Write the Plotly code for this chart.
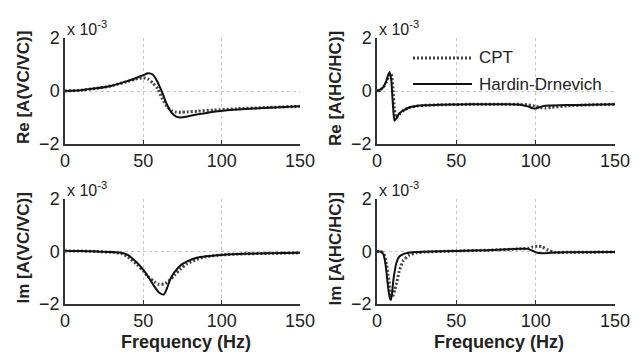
import plotly.graph_objects as go
from plotly.subplots import make_subplots

# ---- data (values in units of 1e-3) ----
f_re_vc = [0, 10, 20, 30, 40, 45, 50, 53, 56, 59, 62, 65, 68, 71, 74, 78, 85, 95, 110, 130, 150]
hd_re_vc = [0, 0.03, 0.1, 0.2, 0.38, 0.48, 0.6, 0.67, 0.62, 0.35, -0.05, -0.5, -0.82, -0.97, -1.0, -0.96, -0.88, -0.78, -0.7, -0.63, -0.58]
cpt_re_vc = [0, 0.03, 0.1, 0.2, 0.36, 0.45, 0.5, 0.45, 0.3, 0.1, -0.28, -0.58, -0.74, -0.79, -0.8, -0.79, -0.76, -0.72, -0.67, -0.62, -0.58]

f_re_hc = [0, 2, 4, 6, 7, 8, 9, 10, 11, 12, 14, 17, 20, 25, 30, 40, 60, 80, 90, 95, 98, 100, 103, 106, 110, 120, 135, 150]
hd_re_hc = [0, 0.05, 0.15, 0.4, 0.6, 0.72, 0.4, -0.5, -1.12, -1.05, -0.85, -0.72, -0.63, -0.57, -0.54, -0.52, -0.5, -0.5, -0.52, -0.58, -0.65, -0.66, -0.6, -0.56, -0.55, -0.53, -0.52, -0.5]
cpt_re_hc = [0, 0.05, 0.14, 0.35, 0.52, 0.65, 0.62, 0.1, -0.7, -1.0, -0.88, -0.72, -0.63, -0.57, -0.54, -0.52, -0.5, -0.5, -0.5, -0.52, -0.55, -0.58, -0.62, -0.64, -0.62, -0.56, -0.52, -0.5]

f_im_vc = [0, 10, 20, 30, 36, 40, 46, 50, 53, 57, 60, 63, 65, 67, 70, 74, 78, 84, 90, 100, 115, 130, 150]
hd_im_vc = [0.02, 0.02, 0.0, -0.02, -0.05, -0.13, -0.43, -0.7, -0.95, -1.33, -1.56, -1.64, -1.42, -1.08, -0.78, -0.52, -0.38, -0.24, -0.18, -0.13, -0.09, -0.07, -0.05]
cpt_im_vc = [0.02, 0.02, 0.0, -0.03, -0.08, -0.2, -0.5, -0.75, -0.95, -1.15, -1.25, -1.24, -1.18, -1.08, -0.9, -0.65, -0.47, -0.3, -0.2, -0.13, -0.09, -0.07, -0.05]

f_im_hc = [0, 2, 3, 4, 5, 6, 7, 8, 8.7, 9.5, 10.3, 11.3, 12.4, 14, 16.6, 20, 25, 30, 50, 70, 90, 95, 98, 101, 104, 108, 112, 120, 150]
hd_im_hc = [0, 0, -0.03, -0.1, -0.35, -0.8, -1.37, -1.75, -1.85, -1.6, -1.1, -0.7, -0.4, -0.2, -0.1, -0.05, -0.02, -0.01, 0.02, 0.05, 0.1, 0.1, 0.03, -0.05, -0.07, -0.06, -0.04, -0.03, -0.02]
cpt_im_hc = [0, 0, -0.02, -0.07, -0.2, -0.5, -0.9, -1.3, -1.6, -1.72, -1.65, -1.45, -1.2, -0.75, -0.35, -0.15, -0.05, -0.02, 0.02, 0.05, 0.1, 0.12, 0.17, 0.2, 0.18, 0.05, -0.03, -0.03, -0.02]

x_ticks = [0, 50, 100, 150]
y_ticks = [-2, 0, 2]
y_titles = ["Re [A(VC/VC)]", "Re [A(HC/HC)]", "Im [A(VC/VC)]", "Im [A(HC/HC)]"]
x_title = "Frequency (Hz)"
series_names = ["CPT", "Hardin-Drnevich"]

panels = [
    (1, 1, f_re_vc, cpt_re_vc, hd_re_vc),
    (1, 2, f_re_hc, cpt_re_hc, hd_re_hc),
    (2, 1, f_im_vc, cpt_im_vc, hd_im_vc),
    (2, 2, f_im_hc, cpt_im_hc, hd_im_hc),
]

FONT = "Liberation Sans, Arial, sans-serif"
TXT = "#222222"
OFF = 8                      # page body margin
W, H = 643 - OFF, 357 - OFF  # figure size that fills the window


def xp(px):
    return (px - OFF) / W


def yp(py):
    return 1 - (py - OFF) / H


CPT_LINE = dict(color="#444444", width=3, dash="2px,2px")
HD_LINE = dict(color="#111111", width=2)

fig = make_subplots(rows=2, cols=2)

for i, (r, c, f, cpt, hd) in enumerate(panels):
    fig.add_trace(go.Scatter(x=f, y=cpt, mode="lines", name=series_names[0],
                             line=dict(**CPT_LINE, shape="spline", smoothing=0.6),
                             showlegend=False), row=r, col=c)
    fig.add_trace(go.Scatter(x=f, y=hd, mode="lines", name=series_names[1],
                             line=dict(**HD_LINE, shape="spline", smoothing=0.6),
                             showlegend=False), row=r, col=c)

xpix = {1: (65, 300), 2: (377, 615)}
ypix = {1: (38, 144), 2: (199, 304)}
ytitle_x = {1: 23, 2: 335}
xdom = {c: [xp(a), xp(b)] for c, (a, b) in xpix.items()}
ydom = {r: [yp(b), yp(a)] for r, (a, b) in ypix.items()}

axis_common = dict(automargin=False, showgrid=True, gridcolor="#c8c8c8", griddash="dot", gridwidth=1,
                   showline=True, linecolor="#333333", linewidth=1.5,
                   ticks="inside", ticklen=4, tickcolor="#333333",
                   tickfont=dict(size=18, color=TXT, family=FONT), zeroline=False)

for i, (r, c, *_rest) in enumerate(panels):
    fig.update_xaxes(domain=xdom[c], range=[0, 150], tickvals=x_ticks, row=r, col=c, **axis_common)
    fig.update_yaxes(domain=ydom[r], range=[-2, 2], tickvals=y_ticks, ticklabelstandoff=0,
                     row=r, col=c, **axis_common)
    # y-axis title
    fig.add_annotation(text="<b>" + y_titles[i] + "</b>", xref="paper", yref="paper",
                       x=xp(ytitle_x[c]), y=yp((ypix[r][0] + ypix[r][1]) / 2 - 3),
                       xanchor="center", yanchor="middle", textangle=-90, showarrow=False,
                       font=dict(size=17, color=TXT, family=FONT))
    # exponent label
    fig.add_annotation(text="x 10<sup>-3</sup>", xref="paper", yref="paper",
                       x=xdom[c][0], y=yp(ypix[r][0] + 2), xanchor="left", yanchor="bottom",
                       showarrow=False, font=dict(size=16, color=TXT, family=FONT))
    if r == 2:
        fig.add_annotation(text="<b>" + x_title + "</b>", xref="paper", yref="paper",
                           x=xp((xpix[c][0] + xpix[c][1]) / 2 + 3), y=yp(342),
                           xanchor="center", yanchor="middle", showarrow=False,
                           font=dict(size=18, color=TXT, family=FONT))

# legend (top-right panel)
leg_rows = [(series_names[0], CPT_LINE, 58), (series_names[1], HD_LINE, 84)]
for name, ln, py in leg_rows:
    fig.add_shape(type="line", xref="paper", yref="paper",
                  x0=xp(413), x1=xp(472), y0=yp(py), y1=yp(py), line=ln)
    fig.add_annotation(text=name, xref="paper", yref="paper", x=xp(477), y=yp(py),
                       xanchor="left", yanchor="middle", showarrow=False,
                       font=dict(size=17, color=TXT, family=FONT))

fig.update_layout(
    width=W, height=H,
    margin=dict(l=0, r=0, t=0, b=0),
    paper_bgcolor="white", plot_bgcolor="white",
    font=dict(family=FONT, color=TXT),
    showlegend=False,
)

fig.write_html("out.html")
